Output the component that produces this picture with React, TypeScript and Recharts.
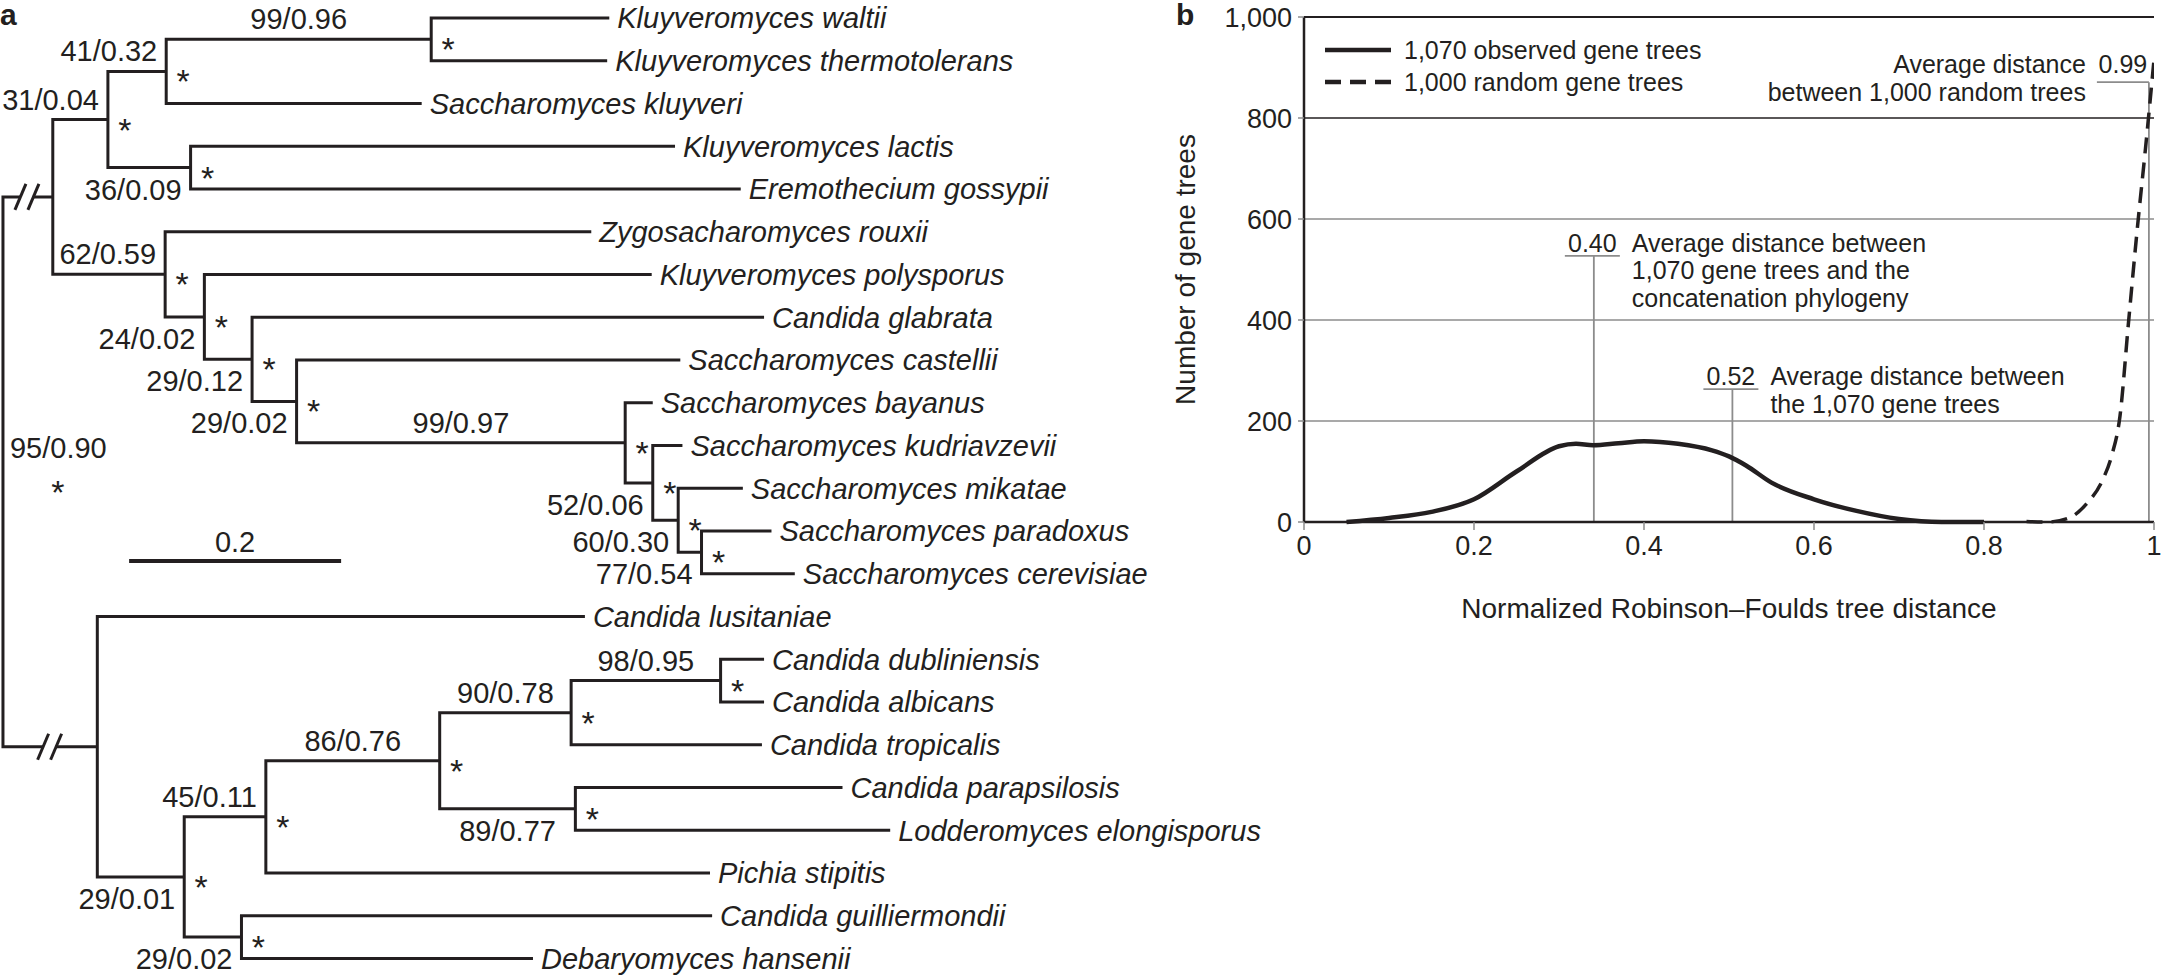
import {
  ScatterChart, Scatter, LineChart, Line, XAxis, YAxis,
  ReferenceLine, ReferenceDot, Legend, Label,
} from 'recharts';

const INK = '#231f20';
const GREY = '#8c8c8c';
const FONT = "'Liberation Sans', Arial, Helvetica, sans-serif";

// ---------- panel a: phylogeny ----------
const species = [
  'Kluyveromyces waltii', 'Kluyveromyces thermotolerans', 'Saccharomyces kluyveri',
  'Kluyveromyces lactis', 'Eremothecium gossypii', 'Zygosacharomyces rouxii',
  'Kluyveromyces polysporus', 'Candida glabrata', 'Saccharomyces castellii',
  'Saccharomyces bayanus', 'Saccharomyces kudriavzevii', 'Saccharomyces mikatae',
  'Saccharomyces paradoxus', 'Saccharomyces cerevisiae', 'Candida lusitaniae',
  'Candida dubliniensis', 'Candida albicans', 'Candida tropicalis',
  'Candida parapsilosis', 'Lodderomyces elongisporus', 'Pichia stipitis',
  'Candida guilliermondii', 'Debaryomyces hansenii',
];
// distance from the (truncated) root, in substitutions per site
const leafDepth = [
  0.572, 0.570, 0.395, 0.634, 0.696, 0.555, 0.612, 0.718, 0.639, 0.613, 0.641, 0.698,
  0.725, 0.747, 0.549, 0.718, 0.718, 0.716, 0.792, 0.837, 0.667, 0.669, 0.500,
];
// internal nodes, children first; kids are leaf indexes or node ids
const clades: { id: string; depth: number; kids: (number | string)[]; support?: string }[] = [
  { id: 'E', depth: 0.404, kids: [0, 1], support: '99/0.96' },
  { id: 'D', depth: 0.154, kids: ['E', 2], support: '41/0.32' },
  { id: 'C', depth: 0.177, kids: [3, 4], support: '36/0.09' },
  { id: 'B', depth: 0.099, kids: ['D', 'C'], support: '31/0.04' },
  { id: 'M', depth: 0.659, kids: [12, 13], support: '77/0.54' },
  { id: 'L', depth: 0.637, kids: [11, 'M'], support: '60/0.30' },
  { id: 'K', depth: 0.613, kids: [10, 'L'], support: '52/0.06' },
  { id: 'J', depth: 0.587, kids: [9, 'K'], support: '99/0.97' },
  { id: 'I', depth: 0.277, kids: [8, 'J'], support: '29/0.02' },
  { id: 'H', depth: 0.235, kids: [7, 'I'], support: '29/0.12' },
  { id: 'G', depth: 0.190, kids: [6, 'H'], support: '24/0.02' },
  { id: 'F', depth: 0.153, kids: [5, 'G'], support: '62/0.59' },
  { id: 'A', depth: 0.047, kids: ['B', 'F'] },
  { id: 'V', depth: 0.677, kids: [15, 16], support: '98/0.95' },
  { id: 'T', depth: 0.536, kids: ['V', 17], support: '90/0.78' },
  { id: 'U', depth: 0.540, kids: [18, 19], support: '89/0.77' },
  { id: 'S', depth: 0.412, kids: ['T', 'U'], support: '86/0.76' },
  { id: 'Q', depth: 0.248, kids: ['S', 20], support: '45/0.11' },
  { id: 'R', depth: 0.225, kids: [21, 22], support: '29/0.02' },
  { id: 'P', depth: 0.171, kids: ['Q', 'R'], support: '29/0.01' },
  { id: 'N', depth: 0.089, kids: [14, 'P'] },
  { id: 'root', depth: 0, kids: ['A', 'N'], support: '95/0.90' },
];
const labelSpot: Record<string, string> = {
  E: 'midAbove', D: 'endAbove', C: 'endBelow', B: 'endAbove', M: 'endBelow',
  L: 'endBelow', K: 'endBelow', J: 'midAbove', I: 'endBelow', H: 'endBelow',
  G: 'endBelow', F: 'endAbove', V: 'midAbove', T: 'midAbove', U: 'midBelow',
  S: 'midAbove', Q: 'endAbove', R: 'endBelow', P: 'endBelow',
};
const scaleBarLength = 0.2;

// ---------- panel b: RF distance distributions ----------
const seriesNames = ['1,070 observed gene trees', '1,000 random gene trees'];
const observedX = [0.05, 0.1, 0.15, 0.2, 0.25, 0.3, 0.32, 0.34, 0.37, 0.4, 0.44, 0.48, 0.5, 0.52, 0.55, 0.6, 0.65, 0.7, 0.75, 0.8];
const observedCount = [0, 8, 20, 45, 100, 150, 155, 152, 156, 160, 155, 142, 130, 112, 78, 45, 22, 6, 0, 0];
const randomX = [0.85, 0.875, 0.9, 0.92, 0.94, 0.95, 0.96, 0.97, 0.98, 0.99, 1];
const randomCount = [1, 0, 8, 35, 85, 130, 210, 395, 575, 740, 915];
const countTicks = [0, 200, 400, 600, 800, 1000];
const distTicks = [0, 0.2, 0.4, 0.6, 0.8, 1];
const avgValue = ['0.40', '0.52', '0.99'];
const avgAt = [0.341, 0.504, 0.994];
const avgHeight = [527, 263, 871];
const avgNote = [
  ['Average distance between', '1,070 gene trees and the', 'concatenation phylogeny'],
  ['Average distance between', 'the 1,070 gene trees'],
  ['Average distance', 'between 1,000 random trees'],
];

// ---------- tree layout ----------
const key = (k: number | string) => (typeof k === 'number' ? 'L' + k : k);
const nodeY: Record<string, number> = {};
const nodeDepth: Record<string, number> = {};
const parentOf: Record<string, string> = {};
species.forEach((_, i) => { nodeY['L' + i] = i; nodeDepth['L' + i] = leafDepth[i]; });
clades.forEach(c => {
  const [a, b] = c.kids.map(key);
  nodeY[c.id] = (nodeY[a] + nodeY[b]) / 2;
  nodeDepth[c.id] = c.depth;
  parentOf[a] = c.id;
  parentOf[b] = c.id;
});
const forks = clades.map(c => {
  const [a, b] = c.kids.map(key);
  return [
    { x: nodeDepth[a], y: nodeY[a] },
    { x: c.depth, y: nodeY[a] },
    { x: c.depth, y: nodeY[b] },
    { x: nodeDepth[b], y: nodeY[b] },
  ];
});
const leaves = species.map((name, i) => ({ x: leafDepth[i], y: i, name }));
const supported = clades.filter(c => c.support && c.id !== 'root');
const stars = supported.map(c => ({ x: c.depth, y: nodeY[c.id] }));
const supports = supported.map(c => {
  const spot = labelSpot[c.id];
  const mid = spot.startsWith('mid');
  const x = mid ? (nodeDepth[parentOf[c.id]] + c.depth) / 2 : c.depth;
  return { x, y: nodeY[c.id], text: c.support, spot };
});
const rootNode = clades[clades.length - 1];
const rootPt = [{ x: 0, y: nodeY.root, text: rootNode.support }];
const breaks = [{ x: 0.0226, y: nodeY.A }, { x: 0.044, y: nodeY.N }];
const barStart = 0.119;
const barRow = 12.7;
const scaleBar = [{ x: barStart, y: barRow }, { x: barStart + scaleBarLength, y: barRow }];
const scaleMid = [{ x: barStart + scaleBarLength / 2, y: barRow, text: String(scaleBarLength) }];

const observed = observedX.map((x, i) => ({ x, y: observedCount[i] }));
const random = randomX.map((x, i) => ({ x, y: randomCount[i] }));

const txt = { fontFamily: FONT, fill: INK };

const Blank = () => <g />;

const LeafName = (p: any) => (
  <text x={p.cx + 8} y={p.cy} dy="0.36em" fontSize={29} fontStyle="italic" {...txt}>
    {p.payload.name}
  </text>
);

const Star = (p: any) => (
  <text x={p.cx + 17} y={p.cy + 22} textAnchor="middle" fontSize={34} {...txt}>*</text>
);

const Support = (p: any) => {
  const { cx, cy, payload } = p;
  const mid = payload.spot.startsWith('mid');
  const above = payload.spot.endsWith('Above');
  return (
    <text x={mid ? cx : cx - 9} y={above ? cy - 10 : cy + 32}
      textAnchor={mid ? 'middle' : 'end'} fontSize={29} {...txt}>
      {payload.text}
    </text>
  );
};

const RootSupport = (p: any) => (
  <g>
    <text x={p.cx + 7} y={p.cy - 14} fontSize={29} {...txt}>{p.payload.text}</text>
    <text x={p.cx + 55} y={p.cy + 32} textAnchor="middle" fontSize={34} {...txt}>*</text>
  </g>
);

const BreakMark = (p: any) => (
  <g>
    <rect x={p.cx - 6} y={p.cy - 4} width={12} height={8} fill="#fff" />
    <line x1={p.cx - 12} y1={p.cy + 13} x2={p.cx - 1} y2={p.cy - 13} stroke={INK} strokeWidth={3} />
    <line x1={p.cx + 1} y1={p.cy + 13} x2={p.cx + 12} y2={p.cy - 13} stroke={INK} strokeWidth={3} />
  </g>
);

const ScaleLabel = (p: any) => (
  <text x={p.cx} y={p.cy - 9} textAnchor="middle" fontSize={29} {...txt}>{p.payload.text}</text>
);

const AvgFlag = ({ cx, cy, i }: any) => {
  const left = i === 2;
  const x0 = left ? cx - 52 : cx - 29;
  const x1 = left ? cx : cx + 26;
  const base = left ? cy - 9 : cy - 4;
  return (
    <g>
      <line x1={x0} y1={cy} x2={x1} y2={cy} stroke={GREY} strokeWidth={1.8} />
      <text x={(x0 + x1) / 2} y={base} textAnchor="middle" fontSize={25} {...txt}>{avgValue[i]}</text>
      <text x={left ? cx - 63 : cx + 38} y={base} textAnchor={left ? 'end' : 'start'} fontSize={25} {...txt}>
        {avgNote[i].map((s, j) => (
          <tspan key={j} x={left ? cx - 63 : cx + 38} dy={j === 0 ? 0 : 27.5}>{s}</tspan>
        ))}
      </text>
    </g>
  );
};

const SeriesKey = ({ payload }: any) => {
  const items = [...(payload ?? [])].sort(
    (a: any, b: any) => seriesNames.indexOf(a.value) - seriesNames.indexOf(b.value),
  );
  return (
    <div style={{ fontFamily: FONT, fontSize: 25, color: INK }}>
      {items.map((e: any, i: number) => (
        <div key={i} style={{ display: 'flex', alignItems: 'center', height: 32, whiteSpace: 'nowrap' }}>
          <svg width={66} height={8}>
            <line x1={0} y1={4} x2={66} y2={4} stroke={INK} strokeWidth={4.5}
              strokeDasharray={e.payload?.strokeDasharray} />
          </svg>
          <span style={{ marginLeft: 13 }}>{e.value}</span>
        </div>
      ))}
    </div>
  );
};

export default function App() {
  return (
    <div style={{ position: 'absolute', left: 0, top: 0, width: 2161, height: 976, background: '#fff' }}>
      <div style={{ position: 'absolute', left: 0, top: 0 }}>
        <ScatterChart width={1300} height={976} margin={{ top: 0, right: 0, bottom: 0, left: 0 }}>
          <XAxis type="number" dataKey="x" domain={[-0.0028, 1.2236]} hide allowDataOverflow />
          <YAxis type="number" dataKey="y" domain={[-0.421, 22.41]} reversed hide allowDataOverflow />
          {forks.map((pts, i) => (
            <Scatter key={i} data={pts} line={{ stroke: INK, strokeWidth: 3 }} lineType="joint"
              shape={Blank} isAnimationActive={false} />
          ))}
          <Scatter data={breaks} shape={BreakMark} isAnimationActive={false} />
          <Scatter data={scaleBar} line={{ stroke: INK, strokeWidth: 4 }} lineType="joint"
            shape={Blank} isAnimationActive={false} />
          <Scatter data={scaleMid} shape={ScaleLabel} isAnimationActive={false} />
          <Scatter data={leaves} shape={LeafName} isAnimationActive={false} />
          <Scatter data={stars} shape={Star} isAnimationActive={false} />
          <Scatter data={supports} shape={Support} isAnimationActive={false} />
          <Scatter data={rootPt} shape={RootSupport} isAnimationActive={false} />
        </ScatterChart>
      </div>
      <div style={{ position: 'absolute', left: 1160, top: 0 }}>
        <LineChart width={1001} height={976} margin={{ top: 17, right: 7, bottom: 394, left: 0 }}>
          <XAxis type="number" dataKey="x" domain={[0, 1]} ticks={distTicks} allowDataOverflow
            tickFormatter={(v: number) => (v === 0 || v === 1 ? String(v) : v.toFixed(1))}
            height={60} axisLine={{ stroke: INK, strokeWidth: 2.5 }} tickLine={{ stroke: GREY, strokeWidth: 1.5 }}
            tickSize={8} tickMargin={6} tick={{ fill: INK, fontSize: 27, fontFamily: FONT }}>
            <Label value="Normalized Robinson–Foulds tree distance" position="bottom" offset={16}
              fontSize={28} fontFamily={FONT} fill={INK} />
          </XAxis>
          <YAxis type="number" domain={[0, 1000]} ticks={countTicks} width={144}
            tickFormatter={(v: number) => v.toLocaleString('en-US')}
            axisLine={{ stroke: INK, strokeWidth: 2.5 }} tickLine={{ stroke: GREY, strokeWidth: 1.5 }}
            tickSize={6} tickMargin={6} tick={{ fill: INK, fontSize: 27, fontFamily: FONT }}>
            <Label value="Number of gene trees" angle={-90} position="insideLeft" offset={25}
              fontSize={28} fontFamily={FONT} fill={INK} style={{ textAnchor: 'middle' }} />
          </YAxis>
          {[200, 400, 600].map(v => (
            <ReferenceLine key={v} y={v} stroke={GREY} strokeWidth={1.5} />
          ))}
          <ReferenceLine y={800} stroke={INK} strokeWidth={1.5} />
          <ReferenceLine y={1000} stroke={INK} strokeWidth={2} />
          {avgAt.map((x, i) => (
            <ReferenceLine key={'l' + i} segment={[{ x, y: 0 }, { x, y: avgHeight[i] }]}
              stroke={GREY} strokeWidth={1.8} />
          ))}
          <Line data={observed} dataKey="y" type="monotone" name={seriesNames[0]}
            stroke={INK} strokeWidth={4.5} dot={false} isAnimationActive={false} />
          <Line data={random} dataKey="y" type="monotone" name={seriesNames[1]}
            stroke={INK} strokeWidth={3.5} strokeDasharray="16 9" dot={false} isAnimationActive={false} />
          {avgAt.map((x, i) => (
            <ReferenceDot key={'d' + i} x={x} y={avgHeight[i]} r={1}
              shape={(p: any) => <AvgFlag cx={p.cx} cy={p.cy} i={i} />} />
          ))}
          <Legend content={SeriesKey} layout="vertical" align="center" verticalAlign="middle"
            wrapperStyle={{ left: 165, top: 34, width: 'auto' }} />
        </LineChart>
      </div>
      <div style={{ position: 'absolute', left: 0, top: 0, fontFamily: FONT, fontWeight: 700, fontSize: 30, lineHeight: '30px', color: INK }}>a</div>
      <div style={{ position: 'absolute', left: 1176, top: 0, fontFamily: FONT, fontWeight: 700, fontSize: 30, lineHeight: '30px', color: INK }}>b</div>
    </div>
  );
}
